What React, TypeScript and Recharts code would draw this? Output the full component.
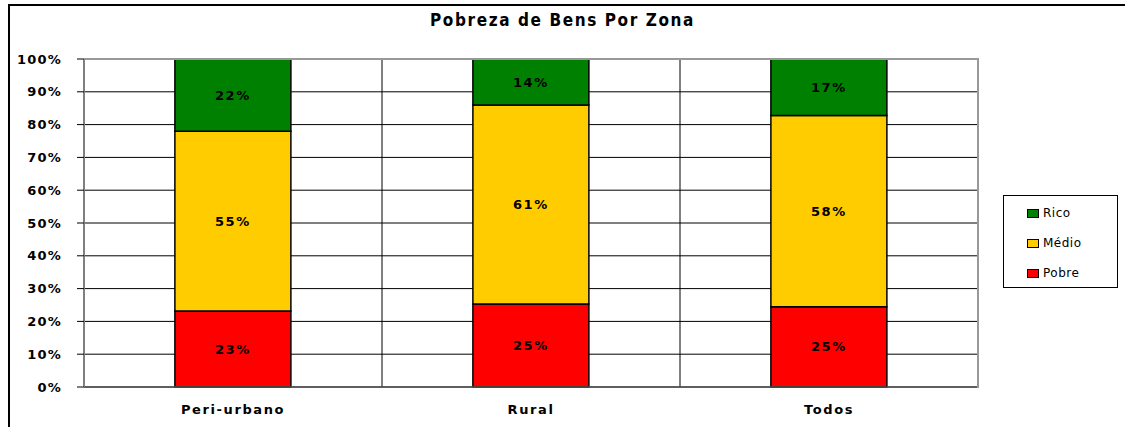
import React from "react";
import { BarChart, Bar, XAxis, YAxis, CartesianGrid, LabelList } from "recharts";

// categories and series (percent)
const zonas = ["Peri-urbano", "Rural", "Todos"];
const pobre = [23.2, 25.3, 24.5];
const medio = [54.8, 60.7, 58.3];
const rico = [22.0, 14.0, 17.2];
const yTicks = [0, 10, 20, 30, 40, 50, 60, 70, 80, 90, 100];

const series = [
  { key: "Rico", color: "#008000" },
  { key: "Médio", color: "#FFCC00" },
  { key: "Pobre", color: "#FF0000" },
];

const data = zonas.map((z, i) => ({ zona: z, Pobre: pobre[i], Médio: medio[i], Rico: rico[i] }));

const FONT = "'DejaVu Sans', Verdana, sans-serif";

const pct = (v: any) => `${Math.round(Number(v))}%`;

// legend drawn as a plain box so it doesn't eat into the plot area
function LegendBox() {
  return (
    <div
      style={{
        position: "absolute",
        left: 1003,
        top: 195,
        width: 115,
        height: 93,
        boxSizing: "border-box",
        border: "1px solid #000",
        padding: "2px 0 0 23px",
        fontFamily: FONT,
        fontSize: 12,
        background: "#fff",
      }}
    >
      {series.map((s) => (
        <div key={s.key} style={{ display: "flex", alignItems: "center", height: 30 }}>
          <span
            style={{
              display: "inline-block",
              width: 10,
              height: 7,
              background: s.color,
              border: "1px solid #000",
              marginRight: 4,
            }}
          />
          <span style={{ letterSpacing: 0.5 }}>{s.key}</span>
        </div>
      ))}
    </div>
  );
}

export default function App() {
  return (
    <div style={{ position: "absolute", left: 0, top: 0, width: 1125, height: 427, overflow: "hidden", background: "#fff" }}>
      <div
        style={{
          position: "absolute",
          left: 8,
          top: 4,
          width: 1200,
          height: 500,
          borderLeft: "2px solid #000",
          borderTop: "2px solid #000",
        }}
      />
      <div
        style={{
          position: "absolute",
          top: 10,
          left: 0,
          width: 1125,
          textAlign: "center",
          fontFamily: "'DejaVu Sans Condensed', 'DejaVu Sans', sans-serif",
          fontWeight: "bold",
          fontSize: 17,
          letterSpacing: 1.6,
        }}
      >
        Pobreza de Bens Por Zona
      </div>
      <div style={{ position: "absolute", left: 0, top: 0 }}>
        <BarChart
          width={1125}
          height={427}
          data={data}
          barCategoryGap="30.5%"
          margin={{ top: 59, right: 147, left: 24, bottom: 10 }}
        >
          <CartesianGrid
            stroke="#000"
            strokeWidth={1}
            verticalCoordinatesGenerator={({ offset }: any) => [
              offset.left + offset.width / 3,
              offset.left + (2 * offset.width) / 3,
            ]}
          />
          <XAxis
            dataKey="zona"
            axisLine={{ stroke: "#555", strokeWidth: 1.5 }}
            tickLine={false}
            height={30}
            tickMargin={12}
            tick={{ fontFamily: FONT, fontWeight: "bold", fontSize: 13, fill: "#000", letterSpacing: 1.6 }}
          />
          <YAxis
            width={60}
            domain={[0, 100]}
            ticks={yTicks}
            interval={0}
            tickFormatter={(v: number) => `${v}%`}
            axisLine={{ stroke: "#808080", strokeWidth: 2 }}
            tickLine={{ stroke: "#000" }}
            tickSize={7}
            tickMargin={15}
            tick={{ fontFamily: FONT, fontWeight: "bold", fontSize: 13, fill: "#000", letterSpacing: 1.2 }}
          />
          <Bar dataKey="Pobre" stackId="a" fill="#FF0000" stroke="#000" strokeWidth={1.5} isAnimationActive={false}>
            <LabelList dataKey="Pobre" position="center" formatter={pct} fill="#000" fontFamily={FONT} fontWeight="bold" fontSize={13} letterSpacing={1.5} />
          </Bar>
          <Bar dataKey="Médio" stackId="a" fill="#FFCC00" stroke="#000" strokeWidth={1.5} isAnimationActive={false}>
            <LabelList dataKey="Médio" position="center" formatter={pct} fill="#000" fontFamily={FONT} fontWeight="bold" fontSize={13} letterSpacing={1.5} />
          </Bar>
          <Bar dataKey="Rico" stackId="a" fill="#008000" stroke="#000" strokeWidth={1.5} isAnimationActive={false}>
            <LabelList dataKey="Rico" position="center" formatter={pct} fill="#000" fontFamily={FONT} fontWeight="bold" fontSize={13} letterSpacing={1.5} />
          </Bar>
        </BarChart>
      </div>
      {/* gray top and right edges of the plot area */}
      <div style={{ position: "absolute", left: 84, top: 58, width: 894, height: 0, borderTop: "2px solid #999" }} />
      <div style={{ position: "absolute", left: 977, top: 58, width: 0, height: 330, borderLeft: "2px solid #999" }} />
      <LegendBox />
    </div>
  );
}
